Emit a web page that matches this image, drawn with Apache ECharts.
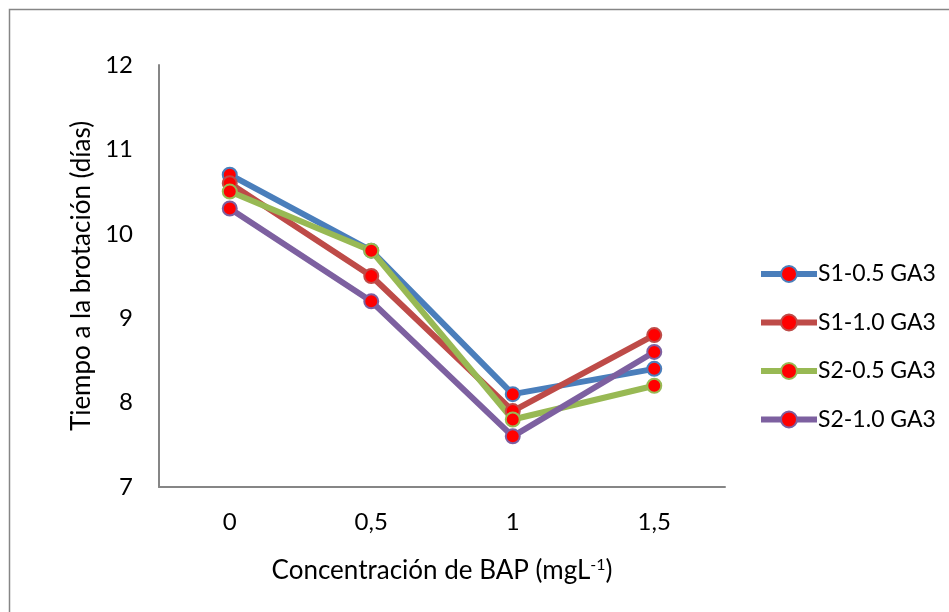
<!DOCTYPE html>
<html>
<head>
<meta charset="utf-8">
<script src="https://cdn.jsdelivr.net/npm/echarts@6/dist/echarts.min.js"></script>
<style>html,body{margin:0;padding:0;background:#fff}#c{width:949px;height:612px}</style>
</head>
<body>
<div id="c"></div>
<script>
var categories = ['0', '0,5', '1', '1,5'];
var seriesNames = ['S1-0.5 GA3', 'S1-1.0 GA3', 'S2-0.5 GA3', 'S2-1.0 GA3'];
var s1_05 = [10.7, 9.8, 8.1, 8.4];
var s1_10 = [10.6, 9.5, 7.9, 8.8];
var s2_05 = [10.5, 9.8, 7.8, 8.2];
var s2_10 = [10.3, 9.2, 7.6, 8.6];
var colors = ['#4A7EBB', '#BE4B48', '#98B954', '#7D60A0'];
var values = [s1_05, s1_10, s2_05, s2_10];

var font = 'Lato, "Open Sans", sans-serif';
var chart = echarts.init(document.getElementById('c'));
var series = seriesNames.map(function (n, i) {
  return {
    name: n, type: 'line', data: values[i],
    symbol: 'circle', symbolSize: 14,
    lineStyle: { color: colors[i], width: 6 },
    itemStyle: { color: '#FF0000', borderColor: colors[i], borderWidth: 2 },
    emphasis: { disabled: true }
  };
});
chart.setOption({
  animation: false,
  backgroundColor: '#fff',
  graphic: [{
    type: 'rect', shape: { x: 9.5, y: 9.5, width: 960, height: 620 },
    style: { fill: 'none', stroke: '#868686', lineWidth: 1.5 }, z: -1
  }],
  grid: { left: 159, top: 65, width: 566, height: 422 },
  legend: {
    orient: 'vertical', left: 753, top: 257, itemGap: 24.5,
    itemWidth: 56, itemHeight: 20,
    lineStyle: { width: 6 },
    textStyle: { fontFamily: font, fontSize: 23, lineHeight: 24, color: '#000', padding: [0, 0, 0, -4] },
    data: seriesNames
  },
  xAxis: {
    type: 'category', data: categories, boundaryGap: true,
    axisLine: { lineStyle: { color: '#868686', width: 2 } },
    axisTick: { show: false },
    axisLabel: { fontFamily: font, fontSize: 24, color: '#000', margin: 23 },
    name: 'Concentración de BAP (mgL{sup|-1})',
    nameLocation: 'middle', nameGap: 70,
    nameTextStyle: {
      fontFamily: font, fontSize: 26, color: '#000',
      rich: { sup: { fontFamily: font, fontSize: 16, color: '#000', verticalAlign: 'top', padding: [0, 0, 12, 0] } }
    }
  },
  yAxis: {
    type: 'value', min: 7, max: 12, interval: 1,
    splitLine: { show: false },
    axisLine: { show: true, lineStyle: { color: '#868686', width: 2 } },
    axisTick: { show: false },
    axisLabel: { fontFamily: font, fontSize: 24, color: '#000', margin: 26 },
    name: 'Tiempo a la brotación (días)',
    nameLocation: 'middle', nameGap: 52, nameRotate: 90,
    nameTextStyle: { fontFamily: font, fontSize: 26, color: '#000' }
  },
  series: series
});
</script>
</body>
</html>
